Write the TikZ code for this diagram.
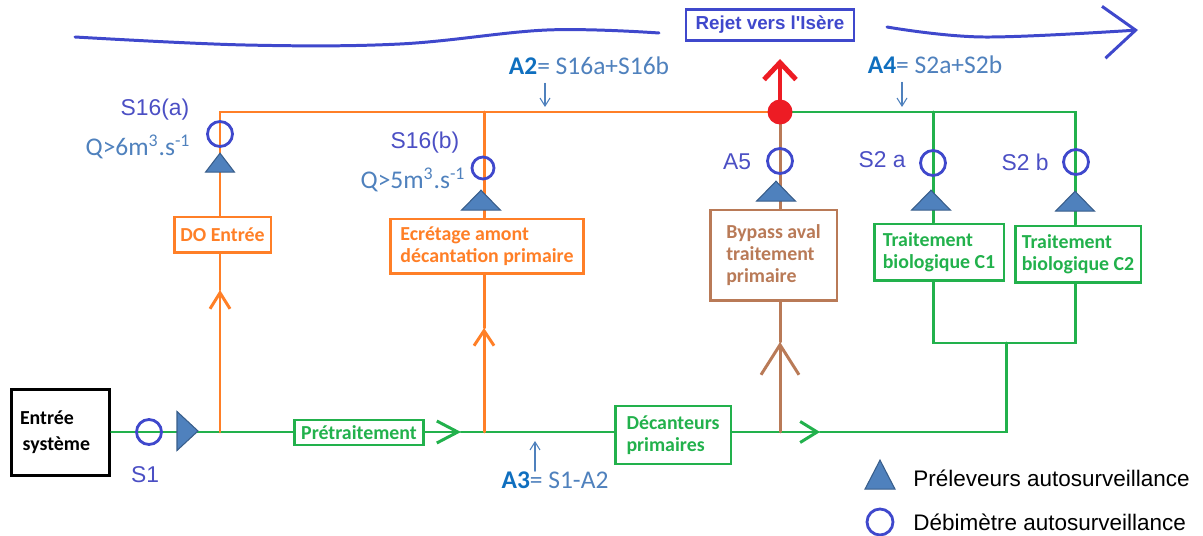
\documentclass[tikz,border=0pt]{standalone}
\usepackage{fontspec}
\newfontfamily\calib{Carlito}
\newfontfamily\arial{Liberation Sans}
\usetikzlibrary{arrows.meta, positioning, shapes.geometric}

\definecolor{vert}{HTML}{22B14C}
\definecolor{orng}{HTML}{FF7F27}
\definecolor{brun}{HTML}{B97A57}
\definecolor{rouge}{HTML}{ED1C24}
\definecolor{indigo}{HTML}{3F48CC}
\definecolor{etiqbleu}{HTML}{4B4FC4}
\definecolor{bleutri}{HTML}{4F81BD}
\definecolor{bleutrib}{HTML}{385D8A}
\definecolor{bleutxt}{HTML}{4F81BD}
\definecolor{bleufonce}{HTML}{0F6FBF}

\begin{document}
\begin{tikzpicture}[x=0.02cm, y=-0.02cm, >=Stealth, line cap=round,
		flux/.style={line width=1.7pt},
		chev/.style 2 args={-{Straight Barb[length=#1, width=#2]}},
		boite/.style={rectangle, draw, line width=1.7pt, align=left, inner sep=1pt, font=\calib\bfseries\fontsize{11.3}{12.5}\selectfont},
		debit/.style={circle, draw=indigo, line width=1.6pt, minimum size=0.5cm, inner sep=0pt},
		prel/.style={isosceles triangle, isosceles triangle stretches, shape border rotate=90, draw=bleutrib, fill=bleutri, line width=0.6pt, inner sep=0pt, minimum width=0.78cm, minimum height=0.4cm},
		etiq/.style={font=\arial\fontsize{13}{15}\selectfont, text=etiqbleu, inner sep=0pt},
		formule/.style={font=\calib\fontsize{14.5}{16}\selectfont, text=bleutxt, inner sep=0pt},
		indic/.style={draw=bleutxt, line width=0.6pt, -{Straight Barb[length=0.16cm, width=0.2cm]}},
		riviere/.style={draw=indigo, line width=1.7pt}]
	\useasboundingbox (0,0) rectangle (1203,536);
	
	% boites
	\node[boite, minimum width=1.98cm, minimum height=1.74cm, text width=1.62cm, inner xsep=0.18cm, font=\calib\bfseries\fontsize{11.3}{15}\selectfont] (entree) at (60.5,432.5) {Entrée\\\hspace*{1.5pt}système};
	\node[boite, draw=vert, text=vert, minimum width=2.6cm, minimum height=0.5cm] (pretrait) at (359,432.5) {Prétraitement};
	\node[boite, draw=orng, text=orng, minimum width=1.94cm, minimum height=0.72cm] (doentree) at (222.5,235) {DO Entrée};
	\node[boite, draw=orng, text=orng, minimum width=3.88cm, minimum height=1.1cm] (ecretage) at (487,246.5) {Ecrétage amont\\décantation primaire};
	\node[boite, draw=vert, text=vert, minimum width=2.32cm, minimum height=1.16cm] (decant) at (673,435) {Décanteurs\\primaires};
	\node[boite, draw=brun, text=brun, minimum width=2.54cm, minimum height=1.82cm] (bypass) at (773.5,255.5) {Bypass aval\\traitement\\primaire};
	\node[boite, draw=vert, text=vert, minimum width=2.6cm, minimum height=1.14cm] (bioA) at (939,252.5) {Traitement\\biologique C1};
	\node[boite, draw=vert, text=vert, minimum width=2.52cm, minimum height=1.14cm] (bioB) at (1078,254.5) {Traitement\\biologique C2};
	\node[draw=indigo, line width=1.2pt, text=indigo, font=\arial\bfseries\fontsize{10.7}{12}\selectfont, minimum width=3.36cm, minimum height=0.62cm] (rejet) at (770,25) {Rejet vers l'Isère};
	
	% points du reseau
	\coordinate (j1) at (220,432);
	\coordinate (j2) at (484,432);
	\coordinate (j3) at (780,432);
	\coordinate (j4) at (1006,432);
	\coordinate (hautA) at (220,112);
	\coordinate (hautC) at (933,112);
	\coordinate (hautD) at (1075,112);
	\coordinate (basBio) at (1006,343);
	\coordinate (jonction) at (780,112);
	\coordinate (sortie) at (780,59);
	\coordinate (ch1) at (461,432);
	\coordinate (ch2) at (220,290);
	\coordinate (ch3) at (484,328);
	\coordinate (ch4) at (780,342);
	\coordinate (ch5) at (820,432);
	
	% file eau
	\draw[flux, vert] (entree.east |- j1) -- (pretrait.west |- j1);
	\draw[flux, vert, chev={0.42cm}{0.44cm}] (pretrait.east |- j1) -- (ch1);
	\draw[flux, vert] (ch1) -- (decant.west |- j1);
	\draw[flux, vert] (decant.east |- j3) -- (j3);
	\draw[flux, vert, chev={0.34cm}{0.42cm}] (j3) -- (ch5);
	\draw[flux, vert] (ch5) -- (j4) -- (basBio);
	\draw[flux, vert] (bioA.south -| hautC) -- (hautC |- basBio) -- (hautD |- basBio) -- (bioB.south -| hautD);
	
	% by-pass
	\draw[flux, orng, chev={0.32cm}{0.4cm}] (j1) -- (ch2);
	\draw[flux, orng] (ch2) -- (doentree.south -| j1);
	\draw[flux, orng] (doentree.north -| j1) -- (hautA) -- (jonction);
	\draw[flux, orng, chev={0.3cm}{0.4cm}] (j2) -- (ch3);
	\draw[flux, orng] (ch3) -- (ecretage.south -| j2);
	\draw[flux, orng] (ecretage.north -| j2) -- (j2 |- hautA);
	\draw[flux, brun, chev={0.6cm}{0.76cm}] (j3) -- (ch4);
	\draw[flux, brun] (ch4) -- (bypass.south -| j3);
	\draw[flux, brun] (bypass.north -| j3) -- (jonction);
	\draw[flux, vert] (jonction) -- (hautD) -- (bioB.north -| hautD);
	\draw[flux, vert] (hautC) -- (bioA.north -| hautC);
	\draw[line width=2.8pt, rouge, chev={0.34cm}{0.64cm}] (jonction) -- (sortie);
	\node[circle, fill=rouge, minimum size=0.5cm, inner sep=0pt] (rejetpt) at (jonction) {};
	
	% riviere
	\draw[riviere] plot[smooth, tension=0.6] coordinates {(75,37) (245,45) (400,44) (547,30) (659,33)};
	\draw[riviere, chev={0.64cm}{1.04cm}] plot[smooth, tension=0.6] coordinates {(887,27) (983,37) (1138,30)};
	
	% points autosurveillance
	\node[debit] (s1) at (149,432) {};
	\node[prel, shape border rotate=0, minimum width=0.78cm, minimum height=0.42cm] (p1) at (185.5,431) {};
	\node[debit] (s16a) at (220,134) {};
	\node[prel, minimum width=0.58cm, minimum height=0.38cm] (p16a) at (220,165) {};
	\node[debit, minimum size=0.44cm] (s16b) at (483,168) {};
	\node[prel] (p16b) at (481,202) {};
	\node[debit] (a5) at (780,161) {};
	\node[prel] (pa5) at (776,193) {};
	\node[debit] (s2a) at (933,163) {};
	\node[prel] (p2a) at (931,202) {};
	\node[debit] (s2b) at (1076,162) {};
	\node[prel] (p2b) at (1075,203) {};
	
	% etiquettes
	\node[etiq] (l16a) at (155,110) {S16(a)};
	\node[formule] (q16a) at (138,147) {Q>6m\textsuperscript{3}.s\textsuperscript{-1}};
	\node[etiq] (l16b) at (425,143) {S16(b)};
	\node[formule] (q16b) at (413,180) {Q>5m\textsuperscript{3}.s\textsuperscript{-1}};
	\node[etiq] (l1) at (145,475) {S1};
	\node[etiq] (la5) at (737,162) {A5};
	\node[etiq] (l2a) at (882,160) {S2 a};
	\node[etiq] (l2b) at (1025,162) {S2 b};
	\node[formule] (fa2) at (589,66) {\textcolor{bleufonce}{\bfseries A2}= S16a+S16b};
	\node[formule] (fa4) at (935,65) {\textcolor{bleufonce}{\bfseries A4}= S2a+S2b};
	\node[formule] (fa3) at (555,480) {\textcolor{bleufonce}{\bfseries A3}= S1-A2};
	\coordinate (pa2) at (545,107);
	\coordinate (pa4) at (902,107);
	\coordinate (pa3) at (535,441);
	\draw[indic, shorten <=0.16cm] (fa2.south -| pa2) -- (pa2);
	\draw[indic, shorten <=0.16cm] (fa4.south -| pa4) -- (pa4);
	\draw[indic] (fa3.north -| pa3) -- (pa3);
	
	% legende
	\node[prel, minimum width=0.6cm, minimum height=0.58cm] (legprel) at (880,480) {};
	\node[debit, minimum width=0.52cm] (legdebit) at (880,522) {};
	\node[anchor=west, inner sep=0pt, font=\arial\fontsize{12.8}{15}\selectfont] (txtprel) at (913,478) {Préleveurs autosurveillance};
	\node[anchor=west, inner sep=0pt, font=\arial\fontsize{12.8}{15}\selectfont] (txtdebit) at (913,522) {Débimètre autosurveillance};
\end{tikzpicture}
\end{document}
